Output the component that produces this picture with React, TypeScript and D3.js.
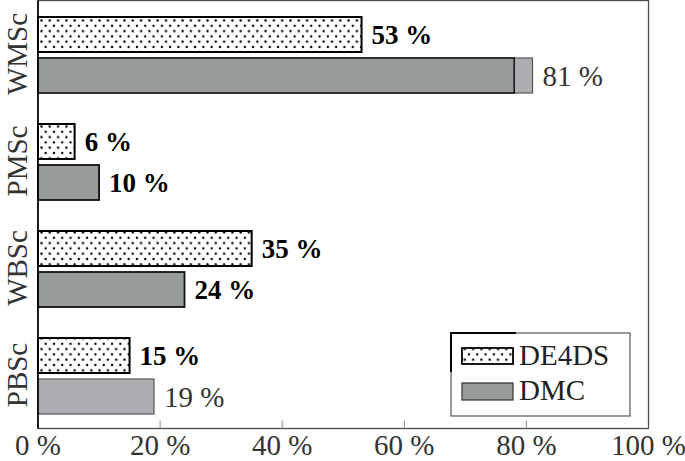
import React from "react";
import * as d3 from "d3";

const categories = ["WMSc", "PMSc", "WBSc", "PBSc"];
const de4dsValues = [53, 6, 35, 15];
const dmcValues = [81, 10, 24, 19];
const dmcDarkValues: (number | null)[] = [78, 10, 24, null];
const xTicks = [0, 20, 40, 60, 80, 100];
const legendLabels = ["DE4DS", "DMC"];

const W = 685;
const H = 461;
const left = 38;
const right = 648.5;
const top = 0.5;
const bottom = 428.5;
const FONT = "Liberation Serif, DejaVu Serif, serif";
const DARK = "#989b9b";
const LIGHT = "#adaeb1";

export default function App() {
  const x = d3.scaleLinear().domain([0, 100]).range([left, right]);
  const y = d3.scaleBand<string>().domain(categories).range([top, bottom]);
  const barH = 35;

  return (
    <svg
      width={W}
      height={H}
      style={{ position: "absolute", left: 0, top: 0, background: "#fff", fontFamily: FONT }}
    >
      <defs>
        <pattern id="dots" patternUnits="userSpaceOnUse" width={8.3} height={10.6} x={41} y={20}>
          <circle cx={0.5} cy={0.5} r={1.2} fill="#000" />
          <circle cx={4.65} cy={5.8} r={1.2} fill="#000" />
          <circle cx={8.8} cy={0.5} r={1.2} fill="#000" />
          <circle cx={0.5} cy={11.1} r={1.2} fill="#000" />
          <circle cx={8.8} cy={11.1} r={1.2} fill="#000" />
        </pattern>
      </defs>

      {/* frame */}
      <rect x={left} y={top} width={right - left} height={bottom - top} fill="none" stroke="#4a4a4a" strokeWidth={1.3} />

      {/* bottom ticks */}
      {xTicks.slice(1, -1).map((t) => (
        <line key={t} x1={x(t)} x2={x(t)} y1={bottom} y2={bottom - 8} stroke="#888" strokeWidth={1} />
      ))}

      {/* bars */}
      {categories.map((c, i) => {
        const c0 = (y(c) as number) + y.bandwidth() / 2;
        const yA = c0 - 37;
        const yB = c0 + 4;
        const dark = dmcDarkValues[i];
        return (
          <g key={c}>
            <rect x={x(0)} y={yA} width={x(de4dsValues[i]) - x(0)} height={barH} fill="#fff" />
            <rect x={x(0)} y={yA} width={x(de4dsValues[i]) - x(0)} height={barH} fill="url(#dots)" stroke="#000" strokeWidth={2} />
            <text x={x(de4dsValues[i]) + 10} y={yA + barH / 2 + 9} fontSize={27} fontWeight="bold" fill="#000">
              {`${de4dsValues[i]} %`}
            </text>
            {dark === null || dark !== dmcValues[i] ? (
              <>
                <rect x={x(0)} y={yB} width={x(dmcValues[i]) - x(0)} height={barH} fill={LIGHT} stroke="#555" strokeWidth={1.2} />
                {dark !== null && (
                  <rect x={x(0)} y={yB} width={x(dark) - x(0)} height={barH} fill={DARK} stroke="#111" strokeWidth={1.5} />
                )}
                <text x={x(dmcValues[i]) + 10} y={yB + barH / 2 + 10} fontSize={29} fill="#333">
                  {`${dmcValues[i]} %`}
                </text>
              </>
            ) : (
              <>
                <rect x={x(0)} y={yB} width={x(dmcValues[i]) - x(0)} height={barH} fill={DARK} stroke="#111" strokeWidth={1.8} />
                <text x={x(dmcValues[i]) + 10} y={yB + barH / 2 + 9} fontSize={27} fontWeight="bold" fill="#000">
                  {`${dmcValues[i]} %`}
                </text>
              </>
            )}
            <text
              transform={`translate(27, ${c0}) rotate(-90)`}
              textAnchor="middle"
              fontSize={29}
              fill="#333"
            >
              {c}
            </text>
          </g>
        );
      })}

      {/* left axis */}
      <line x1={left} x2={left} y1={top} y2={bottom} stroke="#000" strokeWidth={1.6} />

      {/* x tick labels */}
      {xTicks.map((t) => (
        <text key={t} x={x(t)} y={455} textAnchor="middle" fontSize={29} fill="#333">
          {`${t} %`}
        </text>
      ))}

      {/* legend */}
      <g>
        <rect x={451} y={333} width={179} height={83} fill="#fff" stroke="#555" strokeWidth={1.2} />
        <path d="M451,372 V333 H516" fill="none" stroke="#000" strokeWidth={2} />
        <rect x={462} y={348} width={51} height={16} fill="#fff" />
        <rect x={462} y={348} width={51} height={16} fill="url(#dots)" stroke="#000" strokeWidth={1.8} />
        <text x={519} y={365} fontSize={29} fill="#222">{legendLabels[0]}</text>
        <rect x={462} y={383} width={51} height={17} fill={DARK} stroke="#333" strokeWidth={1.2} />
        <text x={519} y={400} fontSize={29} fill="#222">{legendLabels[1]}</text>
      </g>
    </svg>
  );
}
